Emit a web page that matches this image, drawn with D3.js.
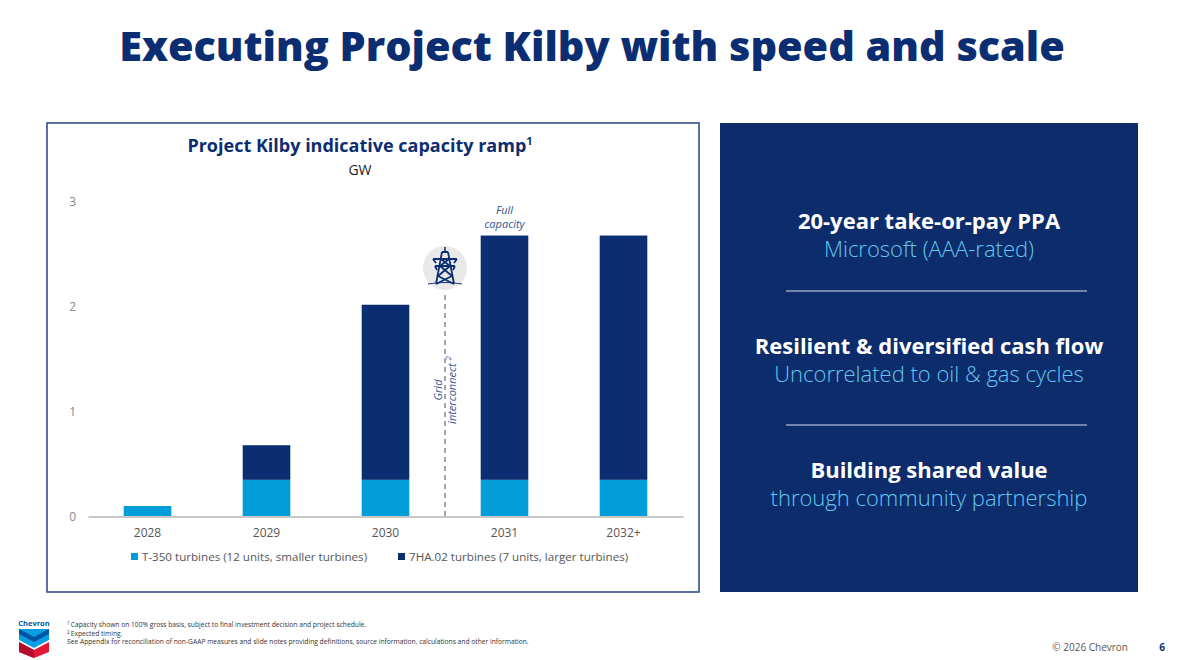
<!DOCTYPE html>
<html>
<head>
<meta charset="utf-8">
<script src="https://cdn.jsdelivr.net/npm/d3@7"></script>
<style>
  body { margin: 0; background: #fff; }
  svg { display: block; font-family: "Open Sans", "Noto Sans", sans-serif; }
</style>
</head>
<body>
<svg id="slide"></svg>
<script>
// chart data
const years = ['2028', '2029', '2030', '2031', '2032+'];
const t350 = [0.10, 0.35, 0.35, 0.35, 0.35];
const ha702 = [0, 0.33, 1.67, 2.33, 2.33];
const yTicks = [0, 1, 2, 3];
const seriesNames = ['T-350 turbines (12 units, smaller turbines)', '7HA.02 turbines (7 units, larger turbines)'];

const points = [
  { head: '20-year take-or-pay PPA', sub: 'Microsoft (AAA-rated)' },
  { head: 'Resilient & diversified cash flow', sub: 'Uncorrelated to oil & gas cycles' },
  { head: 'Building shared value', sub: 'through community partnership' }
];
const footnotes = [
  'Capacity shown on 100% gross basis, subject to final investment decision and project schedule.',
  'Expected timing.',
  'See Appendix for reconciliation of non-GAAP measures and slide notes providing definitions, source information, calculations and other information.'
];

const W = 1184, H = 660;
const navy = '#0b2d71', light = '#009dd9';

const svg = d3.select('#slide').attr('width', W).attr('height', H);

// fit a text element to a target width by font size
function fitWidth(sel, target) {
  const len = sel.node().getComputedTextLength();
  const fs = parseFloat(sel.attr('font-size'));
  sel.attr('font-size', fs * target / len);
}

// slide title
const title = svg.append('text')
  .attr('x', W / 2).attr('y', 61)
  .attr('text-anchor', 'middle')
  .attr('font-size', 40).attr('font-weight', 800)
  .attr('fill', navy)
  .text('Executing Project Kilby with speed and scale');
fitWidth(title, 946);

// chart panel
svg.append('rect')
  .attr('x', 47).attr('y', 123).attr('width', 652).attr('height', 469)
  .attr('fill', 'none').attr('stroke', '#2f4f8c').attr('stroke-width', 1.6);

const ct = svg.append('text')
  .attr('x', 360).attr('y', 152)
  .attr('text-anchor', 'middle')
  .attr('font-size', 18).attr('font-weight', 700)
  .attr('fill', navy);
ct.append('tspan').text('Project Kilby indicative capacity ramp');
ct.append('tspan').attr('font-size', 11).attr('dy', -7).text('1');

svg.append('text')
  .attr('x', 360).attr('y', 175)
  .attr('text-anchor', 'middle')
  .attr('font-size', 14).attr('fill', '#222')
  .text('GW');

// scales
const x = d3.scaleBand().domain(years).range([88, 683]).paddingInner(0.6).paddingOuter(0.3);
const y = d3.scaleLinear().domain([0, 3]).range([516.5, 202]);

const table = years.map((yr, i) => ({ year: yr, t350: t350[i], ha702: ha702[i] }));
const stack = d3.stack().keys(['t350', 'ha702'])(table);
const colors = { t350: light, ha702: navy };

// y labels
const yAxis = d3.axisLeft(y).tickValues(yTicks).tickSize(0).tickPadding(0).tickFormat(d3.format('d'));
const yG = svg.append('g').attr('transform', 'translate(76,0)').call(yAxis);
yG.select('.domain').remove();
yG.selectAll('text').attr('font-size', 12).attr('fill', '#888').attr('font-family', '"Open Sans", sans-serif');

// bars
svg.append('g').selectAll('g')
  .data(stack).join('g')
  .attr('fill', d => colors[d.key])
  .selectAll('rect')
  .data(d => d).join('rect')
  .attr('x', d => x(d.data.year))
  .attr('width', x.bandwidth())
  .attr('y', d => y(d[1]))
  .attr('height', d => y(d[0]) - y(d[1]));

// x axis
const xAxis = d3.axisBottom(x).tickSize(0).tickPadding(12);
const xG = svg.append('g').attr('transform', `translate(0,${y(0)})`).call(xAxis);
xG.select('.domain').attr('stroke', '#c8c8c8').attr('stroke-width', 2);
xG.selectAll('text').attr('font-size', 12).attr('fill', '#555').attr('font-family', '"Open Sans", sans-serif');

// full capacity note
const fc = svg.append('text')
  .attr('x', x('2031') + x.bandwidth() / 2).attr('y', 214)
  .attr('text-anchor', 'middle')
  .attr('font-size', 11).attr('font-style', 'italic').attr('fill', '#34558f');
fc.append('tspan').text('Full');
fc.append('tspan').attr('x', x('2031') + x.bandwidth() / 2).attr('dy', 14).text('capacity');

// grid interconnect marker
const gx = (x('2030') + x.bandwidth() + x('2031')) / 2;
svg.append('line')
  .attr('x1', gx).attr('x2', gx).attr('y1', 295).attr('y2', y(0))
  .attr('stroke', '#888').attr('stroke-width', 1.5).attr('stroke-dasharray', '5,4');

svg.append('circle').attr('cx', gx).attr('cy', 268).attr('r', 22).attr('fill', '#e9e9e9');

// transmission tower icon
const tower = svg.append('g').attr('transform', `translate(${gx},268)`)
  .attr('stroke', navy).attr('stroke-width', 1.8).attr('fill', 'none');
tower.append('path').attr('d', 'M-3,-16 L-9,16 M3,-16 L9,16 M-3,-16 L3,-16');
tower.append('path').attr('d', 'M-12,-9 L12,-9 M-10,-2 L10,-2 M-12,-9 L-9,-5 M12,-9 L9,-5 M-10,-2 L-8,2 M10,-2 L8,2');
tower.append('path').attr('d', 'M-4,-9 L5,-2 M4,-9 L-5,-2 M-5,-2 L7,8 M5,-2 L-7,8 M-7,8 L9,16 M7,8 L-9,16');
tower.append('path').attr('d', 'M-17,16 Q0,13 17,16').attr('stroke-width', 1.2);
tower.append('path').attr('d', 'M0,-21 L0,-16').attr('stroke-width', 1.5);

const gi = svg.append('text')
  .attr('transform', `translate(${gx - 3},390) rotate(-90)`)
  .attr('text-anchor', 'middle')
  .attr('font-size', 11).attr('font-style', 'italic').attr('fill', '#34558f');
gi.append('tspan').attr('x', 0).attr('y', 0).text('Grid');
gi.append('tspan').attr('x', 0).attr('y', 14).text('interconnect ');
gi.append('tspan').attr('font-size', 8).attr('dy', -5).text('2');

// legend
const legend = svg.append('g').selectAll('g')
  .data(['t350', 'ha702']).join('g')
  .attr('transform', (d, i) => `translate(${i === 0 ? 131 : 398},557)`);
legend.append('rect').attr('x', 0).attr('y', -4).attr('width', 7).attr('height', 7)
  .attr('fill', d => colors[d]);
legend.append('text').attr('x', 11).attr('y', 4)
  .attr('font-size', 11.6).attr('fill', '#555')
  .text((d, i) => seriesNames[i]);

// right panel
svg.append('rect')
  .attr('x', 720).attr('y', 123).attr('width', 418).attr('height', 469)
  .attr('fill', '#0c2c6c');

const headY = [229, 354, 478];
points.forEach((p, i) => {
  svg.append('text')
    .attr('x', 929).attr('y', headY[i])
    .attr('text-anchor', 'middle')
    .attr('font-size', 22).attr('font-weight', 700).attr('fill', '#fff')
    .text(p.head);
  svg.append('text')
    .attr('x', 929).attr('y', headY[i] + 28)
    .attr('text-anchor', 'middle')
    .attr('font-size', 22).attr('font-weight', 300).attr('fill', '#66c6f0')
    .text(p.sub);
});
[291, 425].forEach(ly => {
  svg.append('line')
    .attr('x1', 786).attr('x2', 1087).attr('y1', ly).attr('y2', ly)
    .attr('stroke', '#d8dee9').attr('stroke-width', 1);
});

// footer: logo
const logo = svg.append('g').attr('transform', 'translate(18,620)');
logo.append('text').attr('x', 16).attr('y', 6).attr('text-anchor', 'middle')
  .attr('font-size', 7.5).attr('font-weight', 700).attr('fill', '#0054a4').text('Chevron');
logo.append('path').attr('d', 'M1,9 L31,9 L31,20 L16,28 L1,20 Z').attr('fill', '#0a9ee0');
logo.append('path').attr('d', 'M1,9 L16,17 L31,9 L31,14 L16,22 L1,14 Z').attr('fill', '#0054a4');
logo.append('path').attr('d', 'M1,22 L16,30 L31,22 L31,32 L16,38 L1,32 Z').attr('fill', '#e31837');
logo.append('path').attr('d', 'M1,22 L16,30 L16,38 L1,32 Z').attr('fill', '#b0102b');

// footnotes
const fn = svg.append('g').attr('font-size', 6.7).attr('fill', '#333');
footnotes.forEach((t, i) => {
  const tx = fn.append('text').attr('x', 67).attr('y', 627 + i * 8.5);
  if (i < 2) tx.append('tspan').attr('font-size', 4.5).attr('dy', -2).text(i + 1 + ' ');
  tx.append('tspan').attr('dy', i < 2 ? 2 : 0).text(t);
});

svg.append('text').attr('x', 1128).attr('y', 651).attr('text-anchor', 'end')
  .attr('font-size', 10).attr('fill', '#555').text('© 2026 Chevron');
svg.append('text').attr('x', 1165).attr('y', 651).attr('text-anchor', 'end')
  .attr('font-size', 10).attr('font-weight', 700).attr('fill', navy).text('6');
</script>
</body>
</html>
